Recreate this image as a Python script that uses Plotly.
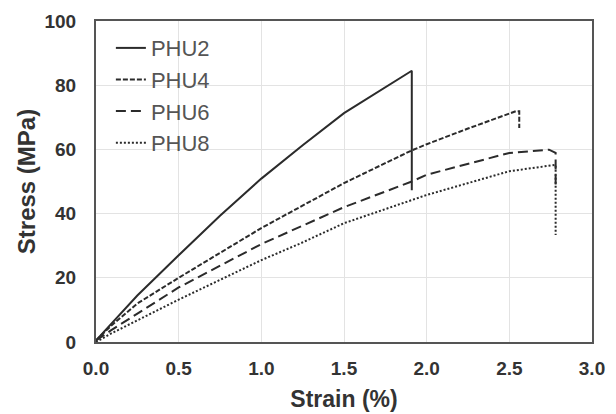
import plotly.graph_objects as go

# ---- data ----
phu2_strain = [0, 0.1, 0.25, 0.5, 0.75, 1.0, 1.25, 1.5, 1.75, 1.91, 1.91]
phu2_stress = [0.5, 6, 14.5, 27, 39.3, 50.9, 61.3, 71.3, 79.5, 84.5, 47.3]

phu4_strain = [0, 0.09, 0.25, 0.5, 1.0, 1.5, 1.91, 2.0, 2.25, 2.54, 2.56, 2.56]
phu4_stress = [0.5, 5, 12, 20, 35.5, 49.5, 59.7, 61.6, 66.5, 71.9, 71.9, 66.7]

phu6_strain = [0, 0.09, 0.5, 1.0, 1.5, 1.91, 2.0, 2.25, 2.5, 2.74, 2.78, 2.78]
phu6_stress = [0.5, 3.6, 17, 30.5, 42, 50, 52.1, 55.5, 58.9, 59.9, 58.9, 49]

phu8_strain = [0, 0.09, 0.5, 1.0, 1.24, 1.5, 2.0, 2.21, 2.5, 2.78, 2.78]
phu8_stress = [0, 2.6, 13.2, 25.5, 30.8, 37, 45.8, 49, 53.2, 55.2, 33.3]

x_ticks = [0, 0.5, 1.0, 1.5, 2.0, 2.5, 3.0]
x_tick_labels = ["0.0", "0.5", "1.0", "1.5", "2.0", "2.5", "3.0"]
y_ticks = [0, 20, 40, 60, 80, 100]

LINE = "#2b2b2b"
TEXT = "#333333"

series = [
    ("PHU2", phu2_strain, phu2_stress, "solid"),
    ("PHU4", phu4_strain, phu4_stress, "5px,2px"),
    ("PHU6", phu6_strain, phu6_stress, "10px,5px"),
    ("PHU8", phu8_strain, phu8_stress, "2px,2px"),
]

fig = go.Figure()
for name, xs, ys, dash in series:
    fig.add_trace(go.Scatter(
        x=xs, y=ys, mode="lines", name=name,
        line=dict(color=LINE, width=2, dash=dash),
    ))

# the page is clipped to the 616x414 window (overflow hidden); the extra
# bottom margin only holds the x-axis title room that automargin asks for
fig.update_layout(
    width=616, height=422,
    margin=dict(l=96, r=24, t=21, b=80),
    paper_bgcolor="white", plot_bgcolor="white",
    font=dict(family="Liberation Sans, Arial, sans-serif", color=TEXT),
    showlegend=True,
    legend=dict(
        x=0.03, y=0.981, xanchor="left", yanchor="top",
        bgcolor="rgba(0,0,0,0)",
        font=dict(size=22, color="#555555"),
        itemwidth=30, tracegroupgap=0,
    ),
)

axis_common = dict(
    showline=True, linecolor="#555555", linewidth=2, mirror=True,
    showgrid=True, gridcolor="#e3e3e3", gridwidth=1,
    zeroline=False, ticks="",
    tickfont=dict(size=19, color=TEXT, weight="bold"),
)

fig.update_xaxes(
    range=[0, 3.0], tickvals=x_ticks, ticktext=x_tick_labels,
    ticklabelstandoff=8, automargin="bottom",
    title=dict(text="Strain (%)", font=dict(size=23, weight="bold", color=TEXT), standoff=13),
    **axis_common,
)
fig.update_yaxes(
    range=[0, 100], tickvals=y_ticks,
    ticklabelstandoff=14, automargin="left",
    title=dict(text="Stress (MPa)", font=dict(size=24, weight="bold", color=TEXT), standoff=2),
    **axis_common,
)

fig.write_html(
    "out.html",
    config={"displayModeBar": False},
    post_script="document.body.style.margin='0';document.body.style.overflow='hidden';",
)
